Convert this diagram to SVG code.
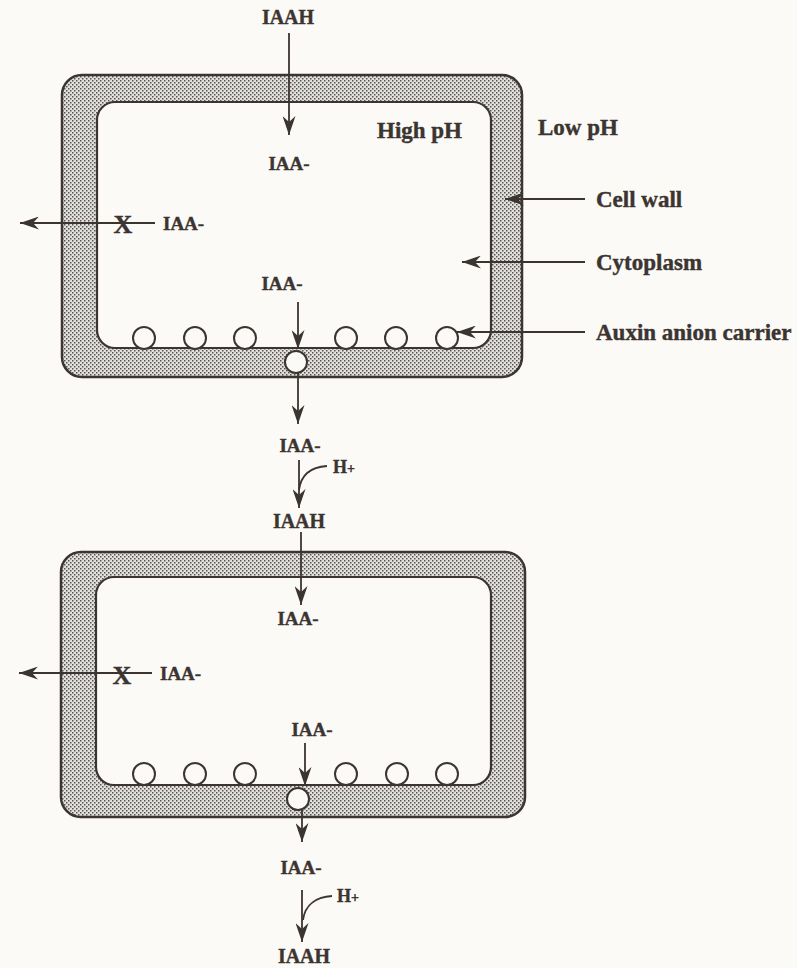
<svg xmlns="http://www.w3.org/2000/svg" width="797" height="968" viewBox="0 0 797 968">
<style>
.t{font-family:"Liberation Serif","Times New Roman",serif;font-weight:bold;fill:#3b3430;stroke:#3b3430;stroke-width:0.4}
.s{font-size:19px}
.m{font-size:20px}
.l{font-size:23px}
.x{font-size:26px}
.c{text-anchor:middle}
.wall{fill:url(#dots);stroke:#3b3430;stroke-width:2.5}
.inner{fill:#fbfaf7;stroke:#3b3430;stroke-width:2.2}
.car{fill:#fbfaf7;stroke:#3b3430;stroke-width:2}
.ln{fill:none;stroke:#3b3430;stroke-width:1.8}
.ar{marker-end:url(#ah)}
</style>
<defs>
<pattern id="dots" width="4" height="4" patternUnits="userSpaceOnUse">
<rect width="4" height="4" fill="#e2e0dc"/>
<rect x="0" y="0" width="1.5" height="1.5" fill="#555"/>
<rect x="2" y="2" width="1.5" height="1.5" fill="#555"/>
</pattern>
<marker id="ah" viewBox="0 0 19 13" refX="19" refY="6.5" markerWidth="19" markerHeight="13" markerUnits="userSpaceOnUse" orient="auto">
<path d="M0,0 L19,6.5 L0,13 L6,6.5 Z" fill="#3b3430"/>
</marker>
</defs>
<rect width="797" height="968" fill="#fbfaf7"/>

<g id="cell-top">
<rect class="wall" x="62" y="75" width="460" height="302" rx="20"/>
<rect class="inner" x="97" y="102" width="394" height="246" rx="18"/>
</g>
<g id="carriers-top">
<circle class="car" cx="144" cy="338" r="11"/>
<circle class="car" cx="195" cy="338" r="11"/>
<circle class="car" cx="245" cy="338" r="11"/>
<circle class="car" cx="346" cy="338" r="11"/>
<circle class="car" cx="396" cy="338" r="11"/>
<circle class="car" cx="447" cy="338" r="11"/>
<circle class="car" cx="296" cy="362" r="11"/>
</g>

<g id="cell-bottom">
<rect class="wall" x="61" y="552" width="464" height="265" rx="20"/>
<rect class="inner" x="96" y="577" width="395" height="208" rx="18"/>
</g>
<g id="carriers-bottom">
<circle class="car" cx="144" cy="774" r="11"/>
<circle class="car" cx="195" cy="774" r="11"/>
<circle class="car" cx="245" cy="774" r="11"/>
<circle class="car" cx="346" cy="774" r="11"/>
<circle class="car" cx="397" cy="774" r="11"/>
<circle class="car" cx="447" cy="774" r="11"/>
<circle class="car" cx="298" cy="799" r="11"/>
</g>

<g id="connectors">
<path class="ln ar" d="M289,33 L289,135"/>
<path class="ln ar" d="M155,223 L20,223"/>
<path class="ln ar" d="M298,302 L298,349"/>
<path class="ln ar" d="M298,373 L298,424"/>
<path class="ln ar" d="M299,460 L299,508"/>
<path class="ln" d="M327,466 C312,467 301,474 299,490"/>
<path class="ln ar" d="M301,532 L301,605"/>
<path class="ln ar" d="M152,673 L19,673"/>
<path class="ln ar" d="M305,743 L305,786"/>
<path class="ln ar" d="M302,810 L302,842"/>
<path class="ln ar" d="M302,890 L302,942"/>
<path class="ln" d="M332,896 C317,897 305,904 303,920"/>
<path class="ln ar" d="M585,199 L505,199"/>
<path class="ln ar" d="M585,262 L462,262"/>
<path class="ln ar" d="M585,332 L457,332"/>
</g>

<g id="label-iaah-top"><text class="t m c" x="288" y="24">IAAH</text></g>
<g id="label-iaa-top1"><text class="t s c" x="289" y="170">IAA-</text></g>
<g id="label-highph"><text class="t l" x="377" y="138">High pH</text></g>
<g id="label-lowph"><text class="t l" x="538" y="135">Low pH</text></g>
<g id="label-cellwall"><text class="t l" x="596" y="207">Cell wall</text></g>
<g id="label-cytoplasm"><text class="t l" x="596" y="270">Cytoplasm</text></g>
<g id="label-carrier"><text class="t l" x="596" y="340">Auxin anion carrier</text></g>
<g id="label-x-top"><text class="t x c" x="123" y="233">X</text></g>
<g id="label-iaa-left-top"><text class="t s" x="163" y="230">IAA-</text></g>
<g id="label-iaa-top2"><text class="t s c" x="282" y="290">IAA-</text></g>
<g id="label-iaa-mid"><text class="t s c" x="300" y="452">IAA-</text></g>
<g id="label-h-mid"><text class="t" x="333" y="473" font-size="18">H<tspan font-size="14">+</tspan></text></g>
<g id="label-iaah-mid"><text class="t m c" x="299" y="528">IAAH</text></g>
<g id="label-iaa-bot1"><text class="t s c" x="298" y="625">IAA-</text></g>
<g id="label-x-bot"><text class="t x c" x="122" y="684">X</text></g>
<g id="label-iaa-left-bot"><text class="t s" x="160" y="680">IAA-</text></g>
<g id="label-iaa-bot2"><text class="t s c" x="312" y="736">IAA-</text></g>
<g id="label-iaa-out"><text class="t s c" x="301" y="874">IAA-</text></g>
<g id="label-h-out"><text class="t" x="337" y="902" font-size="18">H<tspan font-size="14">+</tspan></text></g>
<g id="label-iaah-out"><text class="t m c" x="304" y="963">IAAH</text></g>
</svg>
